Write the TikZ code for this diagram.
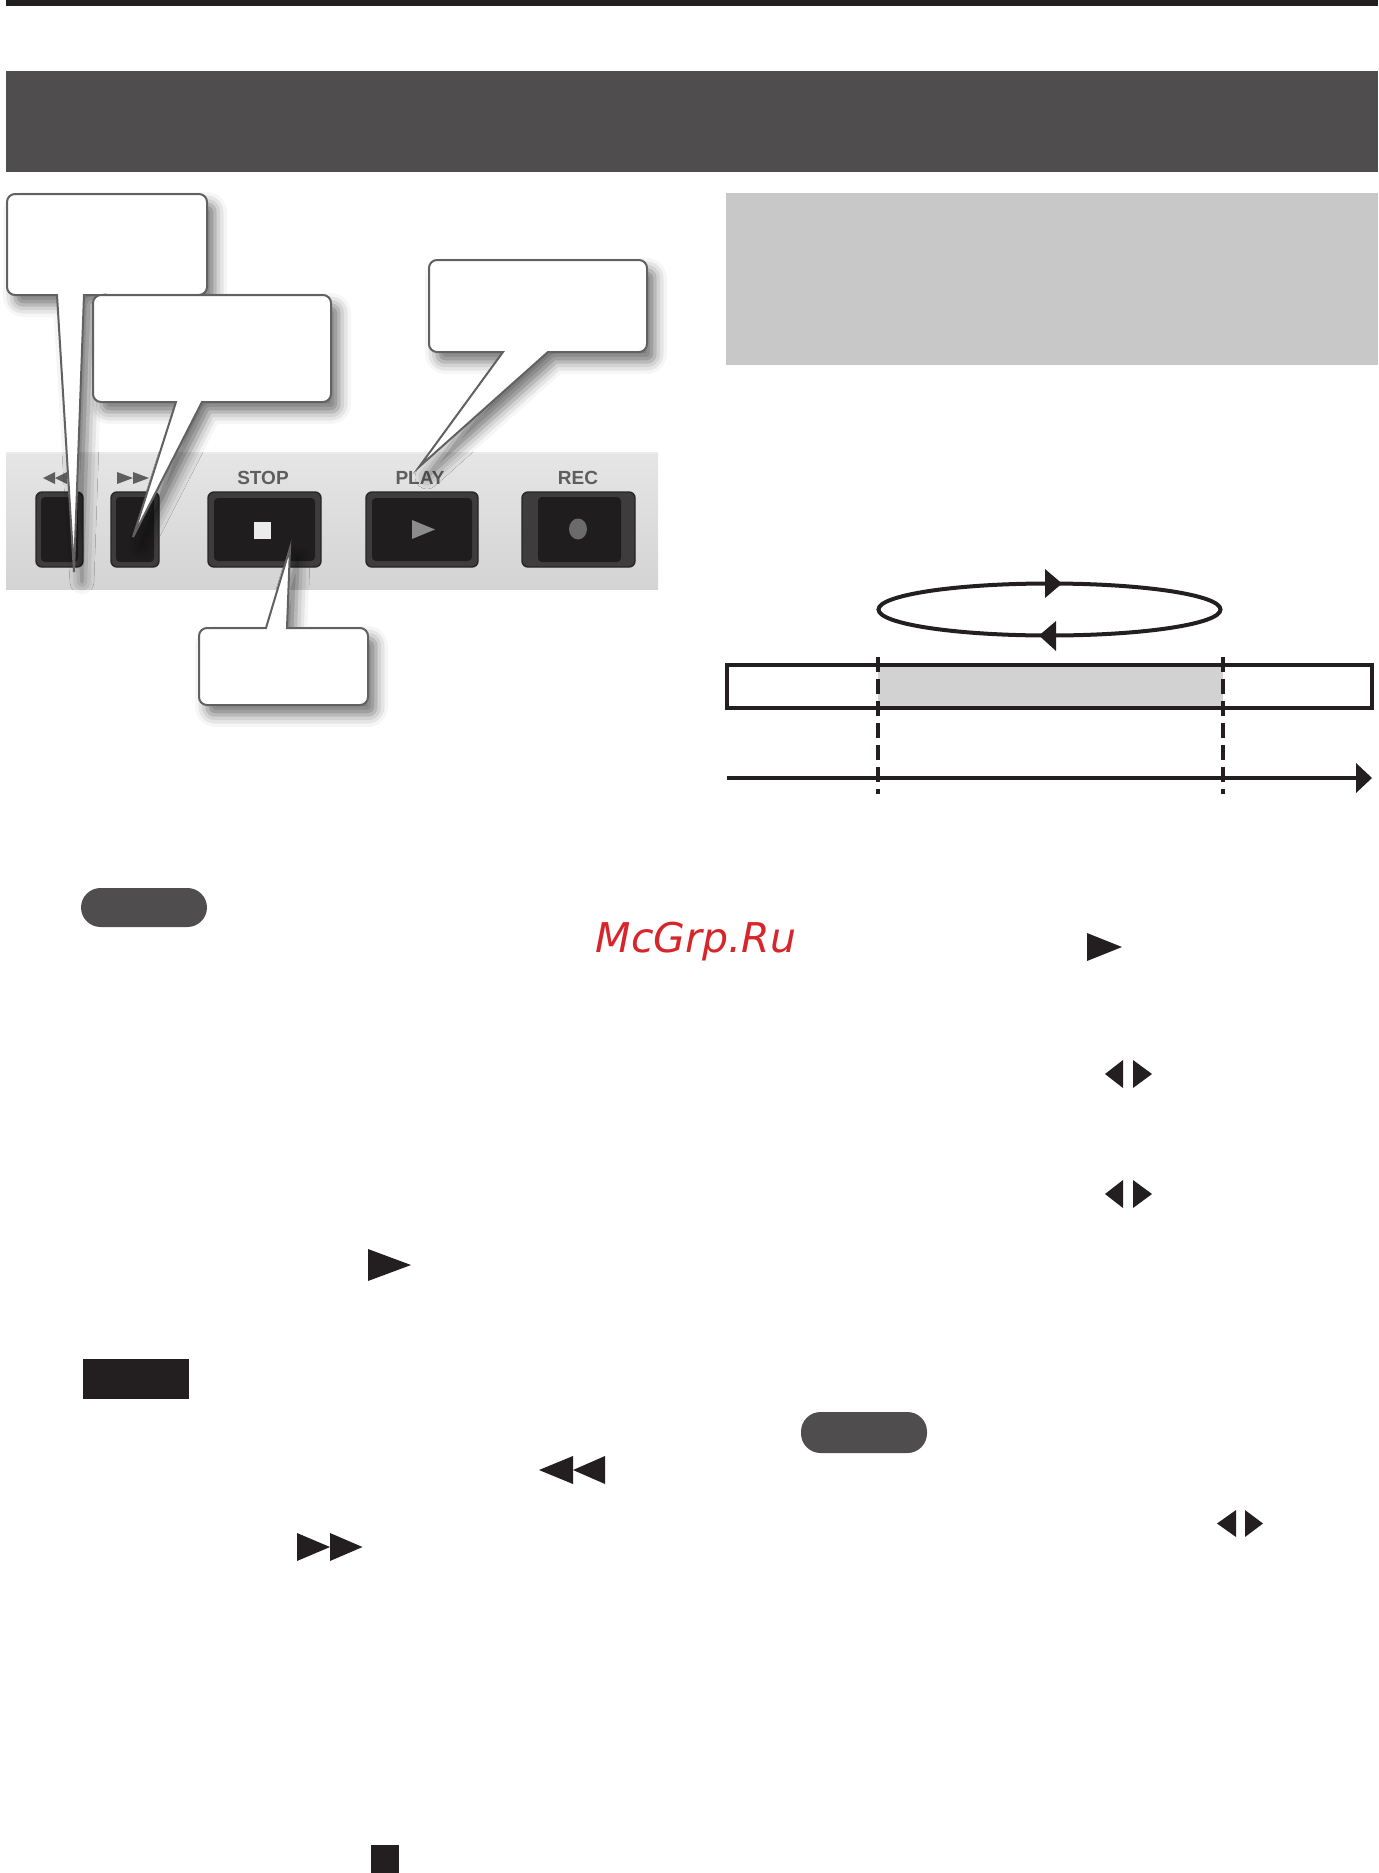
\documentclass[tikz,border=0pt]{standalone}
\usepackage{fontspec}
\usetikzlibrary{shadows.blur}
\newfontfamily\labfont{Liberation Sans}
\newfontfamily\wmfont{DejaVu Sans}
\definecolor{hdr}{HTML}{4F4D4E}
\definecolor{ink}{HTML}{231F20}
\definecolor{btnedge}{HTML}{3E3C3D}
\definecolor{btnface}{HTML}{1F1D1E}
\definecolor{lab}{HTML}{5E5E5E}
\definecolor{wm}{HTML}{D7262B}
\definecolor{loopfill}{HTML}{D2D2D2}
\definecolor{infobox}{HTML}{C8C8C8}
\tikzset{
  callout/.style={fill=white, draw=black!62, line width=1pt, line join=miter,
    blur shadow={shadow xshift=4pt, shadow yshift=-5pt, shadow blur radius=6pt, shadow opacity=55}},
  btnbox/.style={fill=btnedge, draw=black!85, line width=0.7pt, rounded corners=3pt},
  btnin/.style={fill=btnface, rounded corners=2pt},
  lablbl/.style={font=\labfont\bfseries\fontsize{9.5}{10}\selectfont, text=lab, inner sep=0pt},
  labtri/.style={fill=lab},
  tri/.style={fill=ink},
  pillbox/.style={fill=hdr, rounded corners=9.8pt},
  thick line/.style={line width=2pt, draw=ink},
}
\begin{document}
\begin{tikzpicture}[x=0.5pt,y=-0.5pt]
\useasboundingbox (0,0) rectangle (1378,1873);
% top bars
\fill[ink] (6,0) rectangle (1378,6);
\fill[hdr] (6,71) rectangle (1378,172);
% ---------- left photo ----------
\shade[top color=black!10, bottom color=black!17] (6,453) rectangle (658,589);
\draw[white!92!black, line width=0.8pt] (6,453) -- (658,453);
% buttons
\path[btnbox] (36,492) rectangle (83,567);
\path[btnin] (41,497) rectangle (78,562);
\path[btnbox] (111,492) rectangle (159,567);
\path[btnin] (116,497) rectangle (154,562);
\path[btnbox] (208,492) rectangle (321,567);
\path[btnin] (214,498) rectangle (315,561);
\path[btnbox] (366,492) rectangle (478,567);
\path[btnin] (372,498) rectangle (472,561);
\path[btnbox] (522,492) rectangle (635,567);
\path[btnin] (538,497) rectangle (621,562);
% button symbols
\fill[black!8] (254,522) rectangle (271,539);
\fill[black!45] (412,520) -- (435,529.5) -- (412,539) -- cycle;
\fill[black!58] (578,529) ellipse [x radius=9, y radius=10.5];
% labels
\fill[labtri] (43,478) -- (55,472) -- (55,484) -- cycle;
\fill[labtri] (55,478) -- (67,472) -- (67,484) -- cycle;
\fill[labtri] (117,472) -- (133,478) -- (117,484) -- cycle;
\fill[labtri] (133,472) -- (149,478) -- (133,484) -- cycle;
\node[lablbl] (lstop) at (263,478) {STOP};
\node[lablbl] (lplay) at (420,478) {PLAY};
\node[lablbl] (lrec) at (578,478) {REC};
% callouts
\path[callout] (74,572) -- (57,295) [rounded corners=4pt] -- (7,295) -- (7,194) -- (207,194) -- (207,295) [sharp corners] -- (84,295) -- cycle;
\path[callout] (133,537) -- (176,402) [rounded corners=4pt] -- (93,402) -- (93,295) -- (331,295) -- (331,402) [sharp corners] -- (202,402) -- cycle;
\path[callout] (419,467) -- (503,352) [rounded corners=4pt] -- (429,352) -- (429,260) -- (647,260) -- (647,352) [sharp corners] -- (548,352) -- cycle;
\path[callout] (290,548) -- (266,628) [rounded corners=4pt] -- (199,628) -- (199,705) -- (368,705) -- (368,628) [sharp corners] -- (287,628) -- cycle;
% ---------- right side ----------
\fill[infobox] (726,193) rectangle (1378,365);
\draw[thick line] (1049.5,609.5) ellipse [x radius=171, y radius=26];
\fill[tri] (1045,569) -- (1062,583.5) -- (1045,598) -- cycle;
\fill[tri] (1056,621) -- (1039,635.5) -- (1056,651) -- cycle;
\fill[loopfill] (878,665) rectangle (1223,708);
\draw[ink, line width=1.75pt] (727,665) rectangle (1372,708);
\draw[ink, line width=2pt, dash pattern=on 7.5pt off 3.5pt] (878,657) -- (878,794);
\draw[ink, line width=2pt, dash pattern=on 7.5pt off 3.5pt] (1223,657) -- (1223,794);
\draw[thick line] (727,778) -- (1358,778);
\fill[tri] (1356,763) -- (1372,778) -- (1356,793) -- cycle;
% ---------- lower text area ----------
\path[pillbox] (81,888) rectangle (207,927);
\node[font=\wmfont\itshape\fontsize{20.5}{22}\selectfont, text=wm, anchor=base, inner sep=0pt] (wmark) at (696,952) {McGrp.Ru};
\fill[tri] (1087,933) -- (1122,947) -- (1087,961) -- cycle;
\fill[tri] (1105,1074) -- (1123,1060) -- (1123,1088) -- cycle;
\fill[tri] (1133,1060) -- (1152,1074) -- (1133,1088) -- cycle;
\fill[tri] (1105,1194) -- (1123,1180) -- (1123,1208) -- cycle;
\fill[tri] (1133,1180) -- (1152,1194) -- (1133,1208) -- cycle;
\fill[tri] (368,1249) -- (411,1265) -- (368,1281) -- cycle;
\fill[ink] (83,1359) rectangle (189,1399);
\path[pillbox] (801,1412) rectangle (927,1453);
\fill[tri] (539,1470) -- (573,1456) -- (573,1484) -- cycle;
\fill[tri] (573,1470) -- (605,1456) -- (605,1484) -- cycle;
\fill[tri] (297,1533) -- (330,1547) -- (297,1561) -- cycle;
\fill[tri] (330,1533) -- (362.5,1547) -- (330,1561) -- cycle;
\fill[tri] (1217,1523.5) -- (1236,1510) -- (1236,1537) -- cycle;
\fill[tri] (1245,1510) -- (1263,1523.5) -- (1245,1537) -- cycle;
\fill[ink] (371,1845) rectangle (399,1873);
\end{tikzpicture}
\end{document}
